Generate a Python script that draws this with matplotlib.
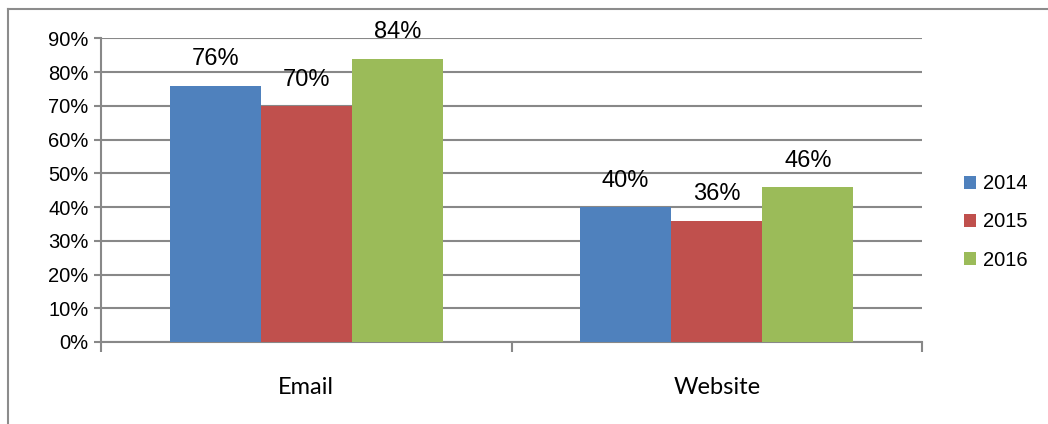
import matplotlib
matplotlib.use("Agg")
import matplotlib.pyplot as plt
from matplotlib.ticker import FixedLocator, PercentFormatter
from matplotlib.lines import Line2D
import numpy as np

categories = ["Email", "Website"]
years = ["2014", "2015", "2016"]
values_2014 = [76, 40]
values_2015 = [70, 36]
values_2016 = [84, 46]
colors = ["#4F81BD", "#C0504D", "#9BBB59"]

grid_color = "#888888"

fig = plt.figure(figsize=(10.48, 4.24), dpi=100)
ax = fig.add_axes([0.0964, 0.1934, 0.7834, 0.7158])

x = np.arange(len(categories))
width = 0.222
series = [values_2014, values_2015, values_2016]
for i, (vals, year, col) in enumerate(zip(series, years, colors)):
    pos = x + (i - 1) * width
    bars = ax.bar(pos, vals, width, color=col, label=year, zorder=3,
                  edgecolor="none")
    for b, v in zip(bars, vals):
        ax.annotate(f"{v}%", (b.get_x() + b.get_width() / 2, v),
                    xytext=(0, 11), textcoords="offset points",
                    ha="center", va="bottom", fontsize=17,
                    family="Liberation Sans")

ax.set_xlim(-0.5, 1.5)
ax.set_ylim(0, 90)
ax.set_yticks(np.arange(0, 91, 10))
ax.yaxis.set_major_formatter(PercentFormatter(decimals=0))
ax.yaxis.grid(True, color=grid_color, linewidth=1.5, zorder=0)

# category boundaries as major ticks, names as minor ticks
ax.xaxis.set_major_locator(FixedLocator([-0.5, 0.5, 1.5]))
ax.xaxis.set_minor_locator(FixedLocator(x))
ax.set_xticklabels([], minor=False)
ax.set_xticklabels(categories, minor=True, fontsize=17, family="Lato")
ax.tick_params(axis="x", which="major", length=7, width=1.5,
               color=grid_color, direction="out")
ax.tick_params(axis="x", which="minor", length=0, pad=25)
ax.tick_params(axis="y", length=5, width=1.5, color=grid_color, pad=4)
for lab in ax.get_yticklabels():
    lab.set_fontsize(14.5)
    lab.set_family("Liberation Sans")

for s in ["top", "right"]:
    ax.spines[s].set_visible(False)
for s in ["left", "bottom"]:
    ax.spines[s].set_color(grid_color)
    ax.spines[s].set_linewidth(1.5)

leg = fig.legend(loc="upper left", bbox_to_anchor=(0.912, 0.608),
                 frameon=False, prop={"family": "Liberation Sans", "size": 14.5},
                 handlelength=0.6, handleheight=0.6, handletextpad=0.35,
                 labelspacing=0.95, borderaxespad=0)

# chart-area border (left and top edges)
fig.add_artist(Line2D([0.0077, 0.0077], [0, 0.978], color="#8c8c8c",
                      linewidth=1.5, transform=fig.transFigure))
fig.add_artist(Line2D([0.0077, 1.0], [0.978, 0.978], color="#8c8c8c",
                      linewidth=1.5, transform=fig.transFigure))

fig.savefig("out.png", dpi=100)
